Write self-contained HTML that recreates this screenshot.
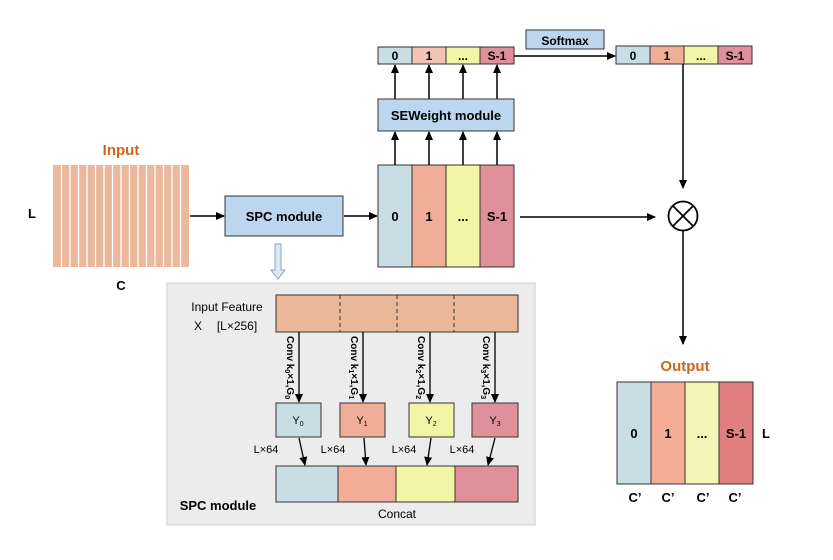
<!DOCTYPE html>
<html><head><meta charset="utf-8"><style>
html,body{margin:0;padding:0;background:#fff;}
svg{display:block;font-family:"Liberation Sans",Arial,sans-serif;}
</style></head><body>
<svg width="833" height="560" viewBox="0 0 833 560" xmlns="http://www.w3.org/2000/svg">
<defs>
<marker id="a" markerWidth="10" markerHeight="10" refX="8" refY="5" orient="auto" markerUnits="userSpaceOnUse">
<path d="M0,1 L9,5 L0,9 Z" fill="#000"/></marker>
</defs>
<text x="121" y="155" font-size="15" font-weight="bold" fill="#d0651f" text-anchor="middle">Input</text>
<rect x="53" y="165" width="136" height="102" fill="#ebb89b"/>
<g stroke="#fff" stroke-width="1.3">
<line x1="61.5" y1="165" x2="61.5" y2="267"/><line x1="70" y1="165" x2="70" y2="267"/><line x1="78.5" y1="165" x2="78.5" y2="267"/><line x1="87" y1="165" x2="87" y2="267"/><line x1="95.5" y1="165" x2="95.5" y2="267"/><line x1="104" y1="165" x2="104" y2="267"/><line x1="112.5" y1="165" x2="112.5" y2="267"/><line x1="121" y1="165" x2="121" y2="267"/><line x1="129.5" y1="165" x2="129.5" y2="267"/><line x1="138" y1="165" x2="138" y2="267"/><line x1="146.5" y1="165" x2="146.5" y2="267"/><line x1="155" y1="165" x2="155" y2="267"/><line x1="163.5" y1="165" x2="163.5" y2="267"/><line x1="172" y1="165" x2="172" y2="267"/><line x1="180.5" y1="165" x2="180.5" y2="267"/>
</g>
<text x="32" y="218" font-size="13" font-weight="bold" text-anchor="middle">L</text>
<text x="121" y="290" font-size="13" font-weight="bold" text-anchor="middle">C</text>
<line x1="190" y1="216" x2="224" y2="216" stroke="#000" stroke-width="1.5" marker-end="url(#a)"/>
<rect x="225" y="196" width="118" height="40" fill="#bcd6ed" stroke="#333" stroke-width="1"/>
<text x="284" y="221" font-size="13" font-weight="bold" text-anchor="middle">SPC module</text>
<line x1="344" y1="216" x2="377" y2="216" stroke="#000" stroke-width="1.5" marker-end="url(#a)"/>
<path d="M275,244 L281,244 L281,270 L285,270 L278,279 L271,270 L275,270 Z" fill="#dfe8f2" stroke="#8aa4c0" stroke-width="1"/>
<g stroke="#333" stroke-width="1">
<rect x="378" y="165" width="34" height="102" fill="#c9dde4"/>
<rect x="412" y="165" width="34" height="102" fill="#f0ae98"/>
<rect x="446" y="165" width="34" height="102" fill="#f4f4a6"/>
<rect x="480" y="165" width="34" height="102" fill="#e0909a"/>
</g>
<g font-size="13" font-weight="bold" text-anchor="middle">
<text x="395" y="221">0</text><text x="429" y="221">1</text><text x="463" y="221">...</text><text x="497" y="221">S-1</text>
</g>
<g stroke="#000" stroke-width="1.5" marker-end="url(#a)">
<line x1="395" y1="165" x2="395" y2="132"/><line x1="429" y1="165" x2="429" y2="132"/><line x1="463" y1="165" x2="463" y2="132"/><line x1="497" y1="165" x2="497" y2="132"/>
<line x1="395" y1="99" x2="395" y2="65"/><line x1="429" y1="99" x2="429" y2="65"/><line x1="463" y1="99" x2="463" y2="65"/><line x1="497" y1="99" x2="497" y2="65"/>
</g>
<rect x="378" y="99" width="136" height="32" fill="#bcd6ed" stroke="#333" stroke-width="1"/>
<text x="446" y="120" font-size="13" font-weight="bold" text-anchor="middle">SEWeight module</text>
<g stroke="#333" stroke-width="1">
<rect x="378" y="47" width="34" height="17" fill="#c9dde4"/>
<rect x="412" y="47" width="34" height="17" fill="#f2c4b6"/>
<rect x="446" y="47" width="34" height="17" fill="#f4f4a6"/>
<rect x="480" y="47" width="34" height="17" fill="#e0909a"/>
</g>
<g font-size="12" font-weight="bold" text-anchor="middle">
<text x="395" y="60">0</text><text x="429" y="60">1</text><text x="463" y="60">...</text><text x="497" y="60">S-1</text>
</g>
<line x1="514" y1="56" x2="615" y2="56" stroke="#000" stroke-width="1.5" marker-end="url(#a)"/>
<rect x="526" y="30" width="78" height="19" fill="#bcd6ed" stroke="#333" stroke-width="1"/>
<text x="565" y="45" font-size="12" font-weight="bold" text-anchor="middle">Softmax</text>
<g stroke="#333" stroke-width="1">
<rect x="616" y="46" width="34" height="18" fill="#c9dde4"/>
<rect x="650" y="46" width="34" height="18" fill="#f0ae98"/>
<rect x="684" y="46" width="34" height="18" fill="#f4f4a6"/>
<rect x="718" y="46" width="34" height="18" fill="#e0909a"/>
</g>
<g font-size="12" font-weight="bold" text-anchor="middle">
<text x="633" y="60">0</text><text x="667" y="60">1</text><text x="701" y="60">...</text><text x="735" y="60">S-1</text>
</g>
<line x1="683" y1="64" x2="683" y2="188" stroke="#000" stroke-width="1.5" marker-end="url(#a)"/>
<line x1="520" y1="217" x2="655" y2="217" stroke="#000" stroke-width="1.5" marker-end="url(#a)"/>
<circle cx="683" cy="216" r="14.5" fill="#fff" stroke="#000" stroke-width="1.8"/>
<line x1="673" y1="206" x2="693" y2="226" stroke="#000" stroke-width="1.8"/>
<line x1="693" y1="206" x2="673" y2="226" stroke="#000" stroke-width="1.8"/>
<line x1="683" y1="231" x2="683" y2="344" stroke="#000" stroke-width="1.5" marker-end="url(#a)"/>
<text x="685" y="371" font-size="15" font-weight="bold" fill="#d0651f" text-anchor="middle">Output</text>
<g stroke="#333" stroke-width="1">
<rect x="617" y="382" width="34" height="102" fill="#c9dde4"/>
<rect x="651" y="382" width="34" height="102" fill="#f4ae98"/>
<rect x="685" y="382" width="34" height="102" fill="#f4f4b6"/>
<rect x="719" y="382" width="34" height="102" fill="#e07e82"/>
</g>
<g font-size="13" font-weight="bold" text-anchor="middle">
<text x="634" y="438">0</text><text x="668" y="438">1</text><text x="702" y="438">...</text><text x="736" y="438">S-1</text>
<text x="766" y="438">L</text>
<text x="635" y="502">C’</text><text x="668" y="502">C’</text><text x="703" y="502">C’</text><text x="735" y="502">C’</text>
</g>
<rect x="167" y="283" width="368" height="242" fill="#ececec" stroke="#cfcfcf" stroke-width="1"/>
<text x="227" y="311" font-size="12" text-anchor="middle">Input Feature</text>
<text x="198" y="330" font-size="12" text-anchor="middle">X</text>
<text x="237" y="330" font-size="12" text-anchor="middle">[L×256]</text>
<rect x="276" y="295" width="242" height="37" fill="#ebb89b" stroke="#333" stroke-width="1"/>
<g stroke="#333" stroke-width="1" stroke-dasharray="4,3">
<line x1="340" y1="295" x2="340" y2="332"/><line x1="397" y1="295" x2="397" y2="332"/><line x1="454" y1="295" x2="454" y2="332"/>
</g>
<g stroke="#000" stroke-width="1.3" marker-end="url(#a)">
<line x1="299" y1="332" x2="299" y2="402"/><line x1="363" y1="332" x2="363" y2="402"/><line x1="430" y1="332" x2="430" y2="402"/><line x1="495" y1="332" x2="495" y2="402"/>
</g>
<g font-size="10" font-weight="bold">
<text transform="translate(287,336) rotate(90)">Conv k<tspan font-size="7" dy="2">0</tspan><tspan dy="-2">×1,G</tspan><tspan font-size="7" dy="2">0</tspan></text>
<text transform="translate(351,336) rotate(90)">Conv k<tspan font-size="7" dy="2">1</tspan><tspan dy="-2">×1,G</tspan><tspan font-size="7" dy="2">1</tspan></text>
<text transform="translate(418,336) rotate(90)">Conv k<tspan font-size="7" dy="2">2</tspan><tspan dy="-2">×1,G</tspan><tspan font-size="7" dy="2">2</tspan></text>
<text transform="translate(483,336) rotate(90)">Conv k<tspan font-size="7" dy="2">3</tspan><tspan dy="-2">×1,G</tspan><tspan font-size="7" dy="2">3</tspan></text>
</g>
<g stroke="#333" stroke-width="1">
<rect x="276" y="403" width="45" height="34" fill="#c9dde4"/>
<rect x="340" y="403" width="45" height="34" fill="#f0ae98"/>
<rect x="409" y="403" width="45" height="34" fill="#f4f4a6"/>
<rect x="472" y="403" width="46" height="34" fill="#e0909a"/>
</g>
<g font-size="11" text-anchor="middle">
<text x="298" y="424">Y<tspan font-size="7" dy="2">0</tspan></text>
<text x="362" y="424">Y<tspan font-size="7" dy="2">1</tspan></text>
<text x="431" y="424">Y<tspan font-size="7" dy="2">2</tspan></text>
<text x="495" y="424">Y<tspan font-size="7" dy="2">3</tspan></text>
</g>
<g font-size="11" text-anchor="middle">
<text x="266" y="453">L×64</text><text x="333" y="453">L×64</text><text x="404" y="453">L×64</text><text x="462" y="453">L×64</text>
</g>
<g stroke="#000" stroke-width="1.3" marker-end="url(#a)">
<line x1="299" y1="438" x2="305" y2="465"/><line x1="364" y1="438" x2="366" y2="465"/><line x1="431" y1="438" x2="427" y2="465"/><line x1="495" y1="438" x2="488" y2="465"/>
</g>
<g stroke="#333" stroke-width="1">
<rect x="276" y="466" width="62" height="36" fill="#c9dde4"/>
<rect x="338" y="466" width="58" height="36" fill="#f0ae98"/>
<rect x="396" y="466" width="59" height="36" fill="#f4f4a6"/>
<rect x="455" y="466" width="63" height="36" fill="#e0909a"/>
</g>
<text x="218" y="510" font-size="13" font-weight="bold" text-anchor="middle">SPC module</text>
<text x="397" y="518" font-size="12" text-anchor="middle">Concat</text>
</svg>
</body></html>
